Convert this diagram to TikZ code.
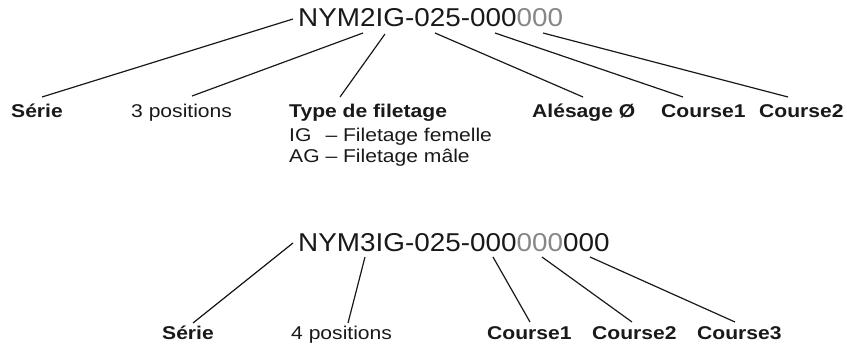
\documentclass[tikz,border=0pt]{standalone}
\usepackage{fontspec}
\newfontfamily\titlefont{Liberation Sans}[FakeStretch=1.08]
\newfontfamily\labfont{Liberation Sans}[FakeStretch=1.14]
\definecolor{digitgray}{RGB}{135,135,135}
\definecolor{ink}{RGB}{25,25,25}
\tikzset{
  code/.style={font=\titlefont\fontsize{25.8}{30}\selectfont, inner sep=0pt, text=ink, anchor=base west},
  lab/.style={font=\labfont\fontsize{18.5}{22}\selectfont, inner sep=0pt, text=ink, anchor=base west},
  blab/.style={lab, font=\labfont\fontsize{18.5}{22}\selectfont\bfseries},
  leader/.style={draw=ink, line width=1.2pt}
}
\begin{document}
\begin{tikzpicture}[x=1pt,y=-1pt]
\useasboundingbox (0,0) rectangle (847,344);
% ---------- upper code ----------
\node[code] (t1) at (298,27) {NYM2IG-025-000\textcolor{digitgray}{000}};
\node[blab] (s1) at (11,118) {Série};
\node[lab]  (p3) at (131,118) {3 positions};
\node[blab] (ty) at (289,118) {Type de filetage};
\node[lab]  (ig) at (289,141.5) {\rlap{IG}\phantom{AG} – Filetage femelle};
\node[lab]  (ag) at (289,163) {AG – Filetage mâle};
\node[blab] (al) at (532,118) {Alésage Ø};
\node[blab] (c1) at (661,118) {Course1};
\node[blab] (c2) at (759,118) {Course2};
\coordinate (a1) at (293,19);  \coordinate (b1) at (42,97);
\coordinate (a2) at (363,33);  \coordinate (b2) at (192,96);
\coordinate (a3) at (385,34);  \coordinate (b3) at (340,97);
\coordinate (a4) at (435,33);  \coordinate (b4) at (583,97);
\coordinate (a5) at (495,33);  \coordinate (b5) at (683,97);
\coordinate (a6) at (543,33);  \coordinate (b6) at (788,97);
\foreach \i in {1,...,6} \draw[leader] (a\i) -- (b\i);
% ---------- lower code ----------
\node[code] (t2) at (298,252) {NYM3IG-025-000\textcolor{digitgray}{000}000};
\node[blab] (s2) at (162,340) {Série};
\node[lab]  (p4) at (291,340) {4 positions};
\node[blab] (d1) at (487,340) {Course1};
\node[blab] (d2) at (592,340) {Course2};
\node[blab] (d3) at (697,340) {Course3};
\coordinate (e1) at (293,243); \coordinate (f1) at (193,323);
\coordinate (e2) at (365,257); \coordinate (f2) at (348,323);
\coordinate (e3) at (493,257); \coordinate (f3) at (530,322);
\coordinate (e4) at (542,257); \coordinate (f4) at (632,322);
\coordinate (e5) at (590,257); \coordinate (f5) at (735,322);
\foreach \i in {1,...,5} \draw[leader] (e\i) -- (f\i);
\end{tikzpicture}
\end{document}
